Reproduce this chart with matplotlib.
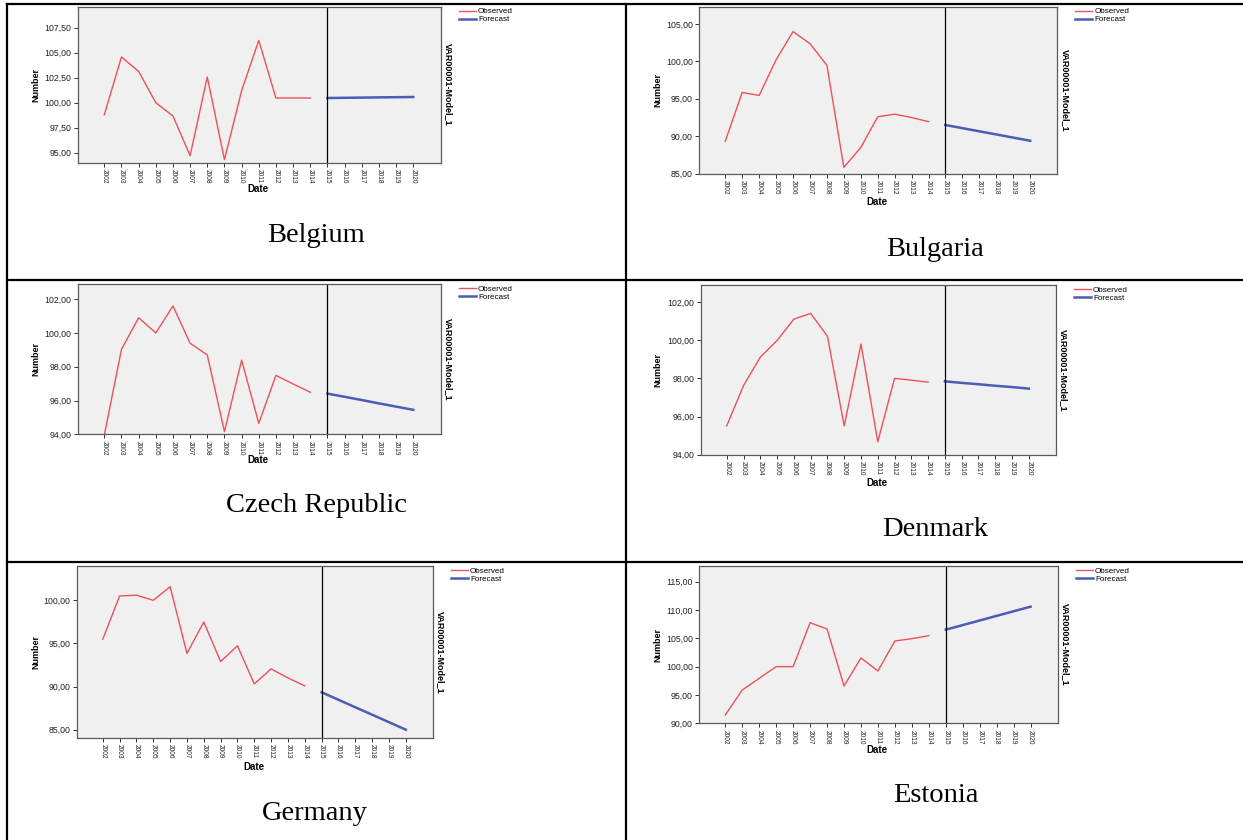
import matplotlib.pyplot as plt
from matplotlib.lines import Line2D

W, H = 1243, 840

years_obs = list(range(2002, 2015))
years_fc = list(range(2015, 2021))
year_ticks = list(range(2002, 2021))

countries = ['Belgium', 'Bulgaria', 'Czech Republic', 'Denmark', 'Germany', 'Estonia']

belgium_obs = [98.8, 104.57, 103.13, 100.0, 98.67, 94.7, 102.57, 94.3, 101.2, 106.23, 100.47, 100.47, 100.47]
belgium_fc = [100.47, 100.49, 100.51, 100.53, 100.55, 100.57]

bulgaria_obs = [89.33, 95.85, 95.45, 100.2, 103.98, 102.36, 99.47, 85.85, 88.5, 92.6, 92.95, 92.5, 91.95]
bulgaria_fc = [91.5, 91.08, 90.66, 90.24, 89.82, 89.4]

czech_obs = [93.95, 99.03, 100.9, 100.0, 101.6, 99.39, 98.7, 94.16, 98.39, 94.65, 97.49, 96.98, 96.49]
czech_fc = [96.41, 96.22, 96.03, 95.83, 95.64, 95.45]

denmark_obs = [95.51, 97.62, 99.11, 99.98, 101.1, 101.4, 100.2, 95.51, 99.79, 94.68, 98.0, 97.9, 97.8]
denmark_fc = [97.84, 97.76, 97.69, 97.61, 97.54, 97.46]

germany_obs = [95.5, 100.5, 100.6, 100.0, 101.58, 93.84, 97.49, 92.9, 94.73, 90.31, 92.05, 91.0, 90.08]
germany_fc = [89.34, 88.47, 87.6, 86.74, 85.87, 85.0]

estonia_obs = [91.47, 95.88, 97.94, 100.0, 100.0, 107.76, 106.65, 96.59, 101.53, 99.24, 104.53, 104.94, 105.47]
estonia_fc = [106.53, 107.34, 108.15, 108.97, 109.78, 110.59]

y_ticks = [
    [95, 97.5, 100, 102.5, 105, 107.5],
    [85, 90, 95, 100, 105],
    [94, 96, 98, 100, 102],
    [94, 96, 98, 100, 102],
    [85, 90, 95, 100],
    [90, 95, 100, 105, 110, 115],
]
y_limits = [(94.0, 109.6), (85.0, 107.3), (94.0, 102.9), (94.0, 102.87), (84.07, 103.98), (90.0, 117.77)]

observed = [belgium_obs, bulgaria_obs, czech_obs, denmark_obs, germany_obs, estonia_obs]
forecast = [belgium_fc, bulgaria_fc, czech_fc, denmark_fc, germany_fc, estonia_fc]

# layout in pixels: plot box (left, top, right, bottom), date label y, caption (x, y)
boxes = [(77.7, 6.7, 440.7, 162.7), (699, 6.7, 1057.3, 173.7),
         (77.7, 284, 440.7, 434.3), (700.7, 285.3, 1055.7, 454.7),
         (76.7, 566, 432.7, 737.7), (699, 566, 1057.7, 723.3)]
date_y = [189, 201.7, 460, 483.3, 767, 750]
captions = [(316, 235), (935, 249), (316, 505), (935, 529), (315, 813), (936, 796)]

OBS_COL = '#f0505a'
FC_COL = '#4a5db3'
FRAME = '#5a5a5a'

fig = plt.figure(figsize=(W / 100, H / 100), dpi=100)
fig.patch.set_facecolor('white')


def fx(x):
    return x / W


def fy(y):
    return 1 - y / H


for i, name in enumerate(countries):
    l, t, r, b = boxes[i]
    ax = fig.add_axes([fx(l), fy(b), (r - l) / W, (b - t) / H])
    ax.set_facecolor('#f0f0f0')
    ax.plot(years_obs, observed[i], color=OBS_COL, lw=1.0, label='Observed')
    ax.plot(years_fc, forecast[i], color=FC_COL, lw=1.8, label='Forecast')
    ax.axvline(2015, color='black', lw=0.9)

    ax.set_xlim(2002 - 1.55, 2020 + 1.6)
    ax.set_ylim(*y_limits[i])
    ax.set_xticks(year_ticks)
    ax.set_xticklabels([str(y) for y in year_ticks], rotation=-90, fontsize=4.7,
                       family='Liberation Sans', color='#222222')
    ax.set_yticks(y_ticks[i])
    ax.set_yticklabels([f'{v:.2f}'.replace('.', ',') for v in y_ticks[i]],
                       fontsize=6.3, family='Liberation Sans', color='#222222')
    ax.tick_params(length=3, width=0.7, color='#333333', pad=1.5)
    for s in ax.spines.values():
        s.set_color(FRAME)
        s.set_linewidth(0.9)

    mid = (t + b) / 2
    num_x = 36 if l < 300 else 658
    fig.text(fx(num_x), fy(mid), 'Number', rotation=90, ha='center', va='center',
             fontsize=6.5, fontweight='bold', family='Liberation Sans')
    fig.text(fx((l + r) / 2 - 1), fy(date_y[i]), 'Date', ha='center', va='center',
             fontsize=7, fontweight='bold', family='Liberation Sans')
    fig.text(fx(r + 8), fy(mid), 'VAR00001-Model_1', rotation=-90, ha='center', va='center',
             fontsize=6.5, fontweight='bold', family='Liberation Sans')

    ax.legend(loc='upper left', bbox_to_anchor=(fx(r + 18), fy(t + 1)),
              bbox_transform=fig.transFigure, frameon=False,
              handlelength=2.1, handletextpad=0.3, labelspacing=0.05, borderpad=0,
              borderaxespad=0, prop={'family': 'Liberation Sans', 'size': 5.8})

    cx, cy = captions[i]
    fig.text(fx(cx), fy(cy), name, ha='center', va='center', fontsize=20.5,
             family='Liberation Serif')

# table borders
for (x0, y0, x1, y1) in [(6.5, 3.5, 1243, 3.5), (6.5, 3.5, 6.5, 840),
                         (626, 3.5, 626, 840), (6.5, 280.5, 1243, 280.5),
                         (6.5, 562, 1243, 562)]:
    fig.add_artist(Line2D([fx(x0), fx(x1)], [fy(y0), fy(y1)], color='black', lw=1.6))

fig.savefig('out.png', dpi=100)
